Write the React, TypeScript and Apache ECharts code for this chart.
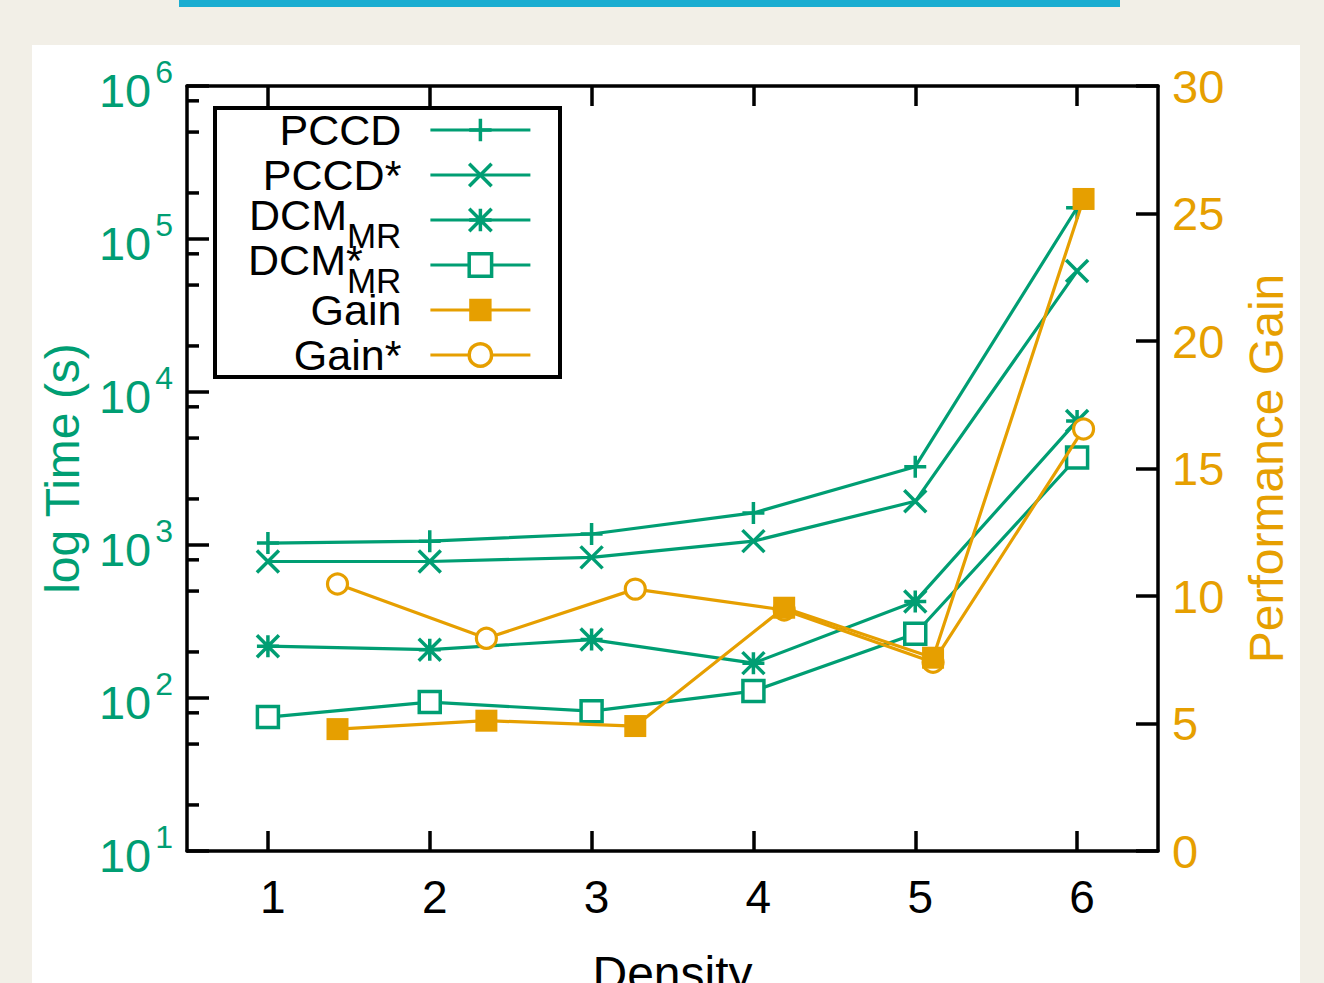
import React, { useEffect, useRef } from "react";
import * as echarts from "echarts";

const FONT = "'Liberation Sans', Arial, Helvetica, sans-serif";
const GREEN = "#009e73";
const ORANGE = "#e69f00";

// x positions
const densities = [1, 2, 3, 4, 5, 6];
const gainDensities = [1.43, 2.35, 3.27, 4.19, 5.11, 6.04];

// log time (s)
const pccd = [1030, 1060, 1180, 1620, 3250, 160000];
const pccdStar = [780, 780, 830, 1060, 1930, 61700];
const dcmMR = [218, 207, 241, 169, 428, 6470];
const dcmMRStar = [75, 94, 82, 111, 263, 3730];

// performance gain
const gain = [4.78, 5.11, 4.9, 9.54, 7.58, 25.57];
const gainStar = [10.47, 8.34, 10.27, 9.45, 7.4, 16.55];

// axis ticks
const xTicks = [1, 2, 3, 4, 5, 6];
const logMinorTicks = [
  20, 50, 80, 200, 500, 800, 2000, 5000, 8000, 20000, 50000, 80000, 200000, 500000, 800000,
];

const seriesNames = ["PCCD", "PCCD*", "DCM_MR", "DCM*_MR", "Gain", "Gain*"];

const PLUS = "path://M0,-10L0,10M-10,0L10,0";
const CROSS = "path://M-10,-10L10,10M-10,10L10,-10";
const STAR = "path://M0,-10L0,10M-10,0L10,0M-10,-10L10,10M-10,10L10,-10";

function legendLabel(name: string): string {
  if (name === "DCM_MR") return "{t|DCM}{s|MR}{g| }";
  if (name === "DCM*_MR") return "{m|DCM}{a|*}{s|MR}{g| }";
  return `{n|${name}}{g| }`;
}

function lineSeries(
  name: string,
  xs: number[],
  ys: number[],
  symbol: string,
  size: number,
  color: string,
  fill: string,
  borderWidth: number,
  yAxisIndex: number,
  z = 2
) {
  return {
    name,
    type: "line",
    xAxisIndex: 0,
    yAxisIndex,
    z,
    data: xs.map((x, i) => [x, ys[i]]),
    symbol,
    symbolSize: size,
    showAllSymbol: true,
    lineStyle: { color, width: 3.2 },
    itemStyle: { color: fill, borderColor: color, borderWidth },
    emphasis: { disabled: true },
  };
}

const LH = 65;

export default function App() {
  const ref = useRef<HTMLDivElement>(null);
  useEffect(() => {
    if (!ref.current) return;
    const chart = echarts.init(ref.current, undefined, { renderer: "svg" });
    const axisLine = { show: true, lineStyle: { color: "#000", width: 3.5 } };
    const txt = { color: "#000", fontFamily: FONT };
    const option: any = {
      animation: false,
      backgroundColor: "transparent",
      textStyle: { fontFamily: FONT },
      grid: { left: 187, right: 166, top: 86, bottom: 132, containLabel: false, outerBoundsMode: "none" },
      legend: {
        data: seriesNames.map((n) =>
          n === "Gain"
            ? { name: n, itemStyle: { borderWidth: 0 } }
            : { name: n }
        ),
        orient: "vertical",
        align: "right",
        right: 792,
        top: 130 - LH / 2,
        padding: 0,
        itemGap: 45 - LH,
        itemWidth: 100,
        itemHeight: 28,
        selectedMode: false,
        formatter: legendLabel,
        lineStyle: { width: 3.2 },
        itemStyle: { borderWidth: 3.5 },
        textStyle: {
          ...txt,
          fontSize: 43,
          lineHeight: LH,
          rich: {
            n: { ...txt, fontSize: 43, lineHeight: LH },
            t: { ...txt, fontSize: 43, lineHeight: LH, verticalAlign: "top", padding: [6, 0, 0, 0] },
            m: { ...txt, fontSize: 43, lineHeight: LH, verticalAlign: "top", padding: [6, 0, 0, 0], align: "left" },
            a: { ...txt, fontSize: 43, lineHeight: LH, verticalAlign: "top", padding: [6, 0, 0, 0], align: "left", width: 1 },
            s: { ...txt, fontSize: 35, lineHeight: LH, verticalAlign: "top", padding: [30, 0, 0, 0] },
            g: { ...txt, width: 24, lineHeight: LH },
          },
        },
      },
      graphic: [
        {
          type: "rect",
          shape: { x: 215, y: 108, width: 345, height: 269 },
          style: { fill: "transparent", stroke: "#000", lineWidth: 4 },
          z: 10,
        },
      ],
      xAxis: [
        {
          type: "value",
          min: 0.5,
          max: 6.5,
          position: "bottom",
          axisLine,
          axisTick: { show: true, inside: true, length: 20, customValues: xTicks, lineStyle: { color: "#000", width: 3.5 } },
          axisLabel: { customValues: xTicks, fontSize: 46, color: "#000", margin: 23, padding: [0, 0, 0, 10], fontFamily: FONT },
          splitLine: { show: false },
          name: "Density",
          nameLocation: "middle",
          nameGap: 98,
          nameTextStyle: { fontSize: 48, color: "#000", fontFamily: FONT },
        },
        {
          type: "value",
          min: 0.5,
          max: 6.5,
          position: "top",
          axisLine,
          axisTick: { show: true, inside: true, length: 20, customValues: xTicks, lineStyle: { color: "#000", width: 3.5 } },
          axisLabel: { show: false },
          splitLine: { show: false },
        },
      ],
      yAxis: [
        {
          type: "log",
          logBase: 10,
          min: 10,
          max: 1000000,
          position: "left",
          axisLine,
          axisTick: { show: true, inside: true, length: 22, lineStyle: { color: "#000", width: 3.5 } },
          axisLabel: {
            margin: 14,
            formatter: (v: number) => `{b|10}{s|${Math.round(Math.log10(v))}}`,
            rich: {
              b: { fontSize: 47, lineHeight: 60, color: GREEN, fontFamily: FONT, padding: [8, 0, 0, 0] },
              s: { fontSize: 32, lineHeight: 60, verticalAlign: "top", color: GREEN, fontFamily: FONT, padding: [0, 0, 0, 4] },
            },
          },
          splitLine: { show: false },
          name: "log Time (s)",
          nameLocation: "middle",
          nameRotate: 90,
          nameGap: 101,
          nameTextStyle: { fontSize: 48, color: GREEN, fontFamily: FONT },
        },
        {
          type: "value",
          min: 0,
          max: 30,
          interval: 5,
          position: "right",
          axisLine,
          axisTick: { show: true, inside: true, length: 22, lineStyle: { color: "#000", width: 3.5 } },
          axisLabel: { fontSize: 47, color: ORANGE, margin: 14, fontFamily: FONT },
          splitLine: { show: false },
          name: "Performance Gain",
          nameLocation: "middle",
          nameRotate: 90,
          nameGap: 84,
          nameTextStyle: { fontSize: 48, color: ORANGE, fontFamily: FONT },
        },
      ],
      series: [
        {
          type: "custom",
          name: "minorTicks",
          xAxisIndex: 0,
          yAxisIndex: 0,
          silent: true,
          z: 1,
          data: logMinorTicks.map((v) => [1, v]),
          renderItem: (params: any, api: any) => {
            const y = api.coord([api.value(0), api.value(1)])[1];
            const x = params.coordSys.x;
            return {
              type: "line",
              shape: { x1: x, y1: y, x2: x + 12, y2: y },
              style: { stroke: "#000", lineWidth: 3.5 },
            };
          },
        },
        lineSeries("PCCD", densities, pccd, PLUS, 22, GREEN, GREEN, 3.5, 0),
        lineSeries("PCCD*", densities, pccdStar, CROSS, 22, GREEN, GREEN, 3.5, 0),
        lineSeries("DCM_MR", densities, dcmMR, STAR, 22, GREEN, GREEN, 3.5, 0),
        lineSeries("DCM*_MR", densities, dcmMRStar, "rect", 21, GREEN, "#ffffff", 3.5, 0),
        lineSeries("Gain*", gainDensities, gainStar, "circle", 20, ORANGE, "#ffffff", 3.2, 1, 3),
        lineSeries("Gain", gainDensities, gain, "rect", 22, ORANGE, ORANGE, 0, 1, 4),
      ],
    };
    chart.setOption(option);
    return () => chart.dispose();
  }, []);

  return (
    <div style={{ position: "fixed", left: 0, top: 0, width: 1324, height: 983, background: "#f2efe7", overflow: "hidden" }}>
      <div style={{ position: "absolute", left: 179, top: 0, width: 941, height: 6.5, background: "#1badd1" }} />
      <div style={{ position: "absolute", left: 32, top: 45, width: 1268, height: 938, background: "#ffffff" }} />
      <div ref={ref} style={{ position: "absolute", left: 0, top: 0, width: 1324, height: 983 }} />
    </div>
  );
}
